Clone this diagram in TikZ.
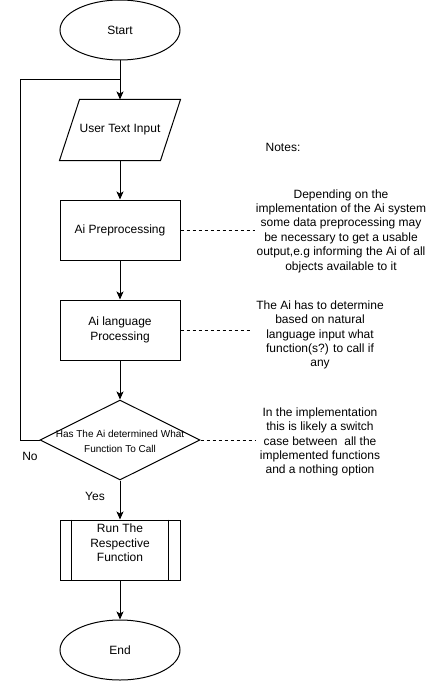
\documentclass[tikz,border=0pt]{standalone}
\usepackage{fontspec}
\setmainfont{Liberation Sans}
\usetikzlibrary{shapes.geometric,arrows.meta}
\begin{document}
\begin{tikzpicture}[x=1pt,y=-1pt, line width=1pt,
  every node/.style={font=\fontsize{12}{14.4}\selectfont, inner sep=0pt},
  term/.style={ellipse, draw, minimum width=120pt, minimum height=60pt},
  proc/.style={rectangle, draw, minimum width=120pt, minimum height=60pt, align=center},
  flow/.style={-{Stealth[length=8pt,width=7pt,inset=2pt]}},
  notelink/.style={dash pattern=on 3pt off 3pt},
  notetext/.style={align=center}]
\useasboundingbox (0,0) rectangle (430,682);
% shapes
\node[term] (start) at (120,30) {Start};
\node[minimum width=100pt, minimum height=60pt] (inp) at (120,130) {User Text Input};
\draw ([xshift=-10pt]inp.south west) -- ([xshift=10pt]inp.north west) -- ([xshift=10pt]inp.north east) -- ([xshift=-10pt]inp.south east) -- cycle;
\node[proc] (pre) at (120,230) {Ai Preprocessing};
\node[proc] (lang) at (120,330) {Ai language\\Processing};
\node[diamond, draw, aspect=2, minimum width=160pt, minimum height=80pt] (dec) at (120,440) {};
\node[align=center, font=\fontsize{10}{15}\selectfont] (dectext) at (120,441) {Has The Ai determined What\\Function To Call};
\node[proc] (run) at (120,550) {};
\draw ([xshift=12pt]run.north west) -- ([xshift=12pt]run.south west);
\draw ([xshift=-12pt]run.north east) -- ([xshift=-12pt]run.south east);
\node[align=center] (runtext) at (120,543) {Run The\\Respective\\Function};
\node[term] (end) at (120,650) {End};
% connectors
\coordinate (join) at (120,80);
\coordinate (loopc) at (20,80);
\draw[flow] (start) -- (inp);
\draw (dec.west) -| (loopc) -- (join);
\draw[flow] (inp) -- (pre);
\draw[flow] (pre) -- (lang);
\draw[flow] (lang) -- (dec);
\draw[flow] (dec) -- (run);
\draw[flow] (run) -- (end);
% labels
\node (no) at (30,456) {No};
\node (yes) at (95,496) {Yes};
% notes
\node (notes) at (283,147) {Notes:};
\node[notetext] (n1) at (341,231) {Depending on the\\implementation of the Ai system\\some data preprocessing may\\be necessary to get a usable\\output,e.g informing the Ai of all\\objects available to it};
\node[notetext] (n2) at (320,335) {The Ai has to determine\\based on natural\\language input what\\function(s?) to call if\\any};
\node[notetext] (n3) at (320,442) {In the implementation\\this is likely a switch\\case between\ \ all the\\implemented functions\\and a nothing option};
\coordinate (n1e) at (255,230);
\coordinate (n2e) at (252,330);
\coordinate (n3e) at (255,440);
\draw[notelink] (pre.east) -- (n1e);
\draw[notelink] (lang.east) -- (n2e);
\draw[notelink] (dec.east) -- (n3e);
\end{tikzpicture}
\end{document}
